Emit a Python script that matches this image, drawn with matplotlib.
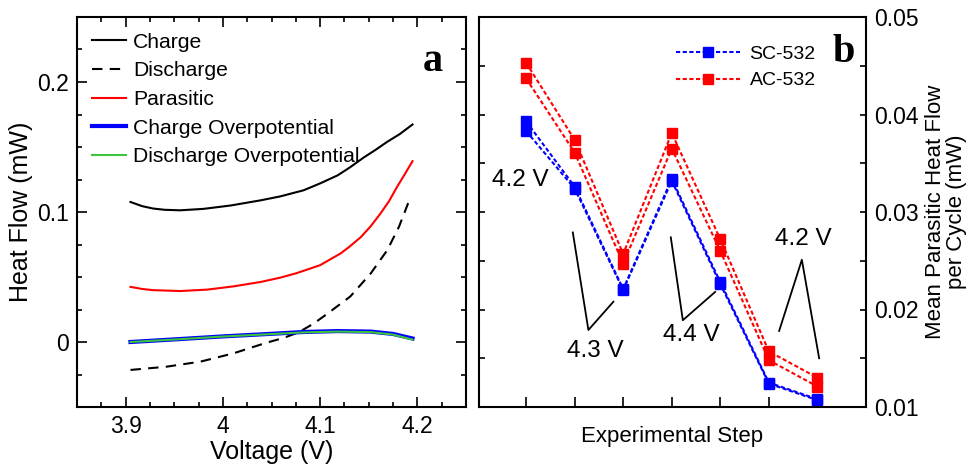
import matplotlib.pyplot as plt
from matplotlib.ticker import MultipleLocator, FuncFormatter

plt.rcParams['font.family'] = ['Liberation Sans', 'DejaVu Sans']

# Panel a : heat flow vs voltage
v_charge = [3.905, 3.917, 3.928, 3.94, 3.956, 3.980, 4.008, 4.039, 4.059, 4.083, 4.100, 4.118,
            4.130, 4.145, 4.157, 4.169, 4.182, 4.195]
q_charge = [0.1077, 0.1045, 0.1027, 0.1017, 0.1013, 0.1024, 0.1050, 0.1090, 0.1120, 0.1167, 0.1220, 0.1282,
            0.1340, 0.1420, 0.1478, 0.1540, 0.1600, 0.1673]

v_discharge = [3.905, 3.942, 3.977, 4.011, 4.045, 4.062, 4.078, 4.093, 4.107, 4.131, 4.152, 4.169, 4.181, 4.191]
q_discharge = [-0.0215, -0.019, -0.0151, -0.0087, -0.0005, 0.003, 0.0075, 0.014, 0.0215, 0.035, 0.0527, 0.0706, 0.0885, 0.1077]

v_parasitic = [3.905, 3.917, 3.928, 3.956, 3.984, 4.011, 4.039, 4.059, 4.076, 4.100, 4.121, 4.130,
               4.142, 4.152, 4.162, 4.171, 4.179, 4.187, 4.195]
q_parasitic = [0.0424, 0.0408, 0.0399, 0.0392, 0.0403, 0.0428, 0.0462, 0.0495, 0.0530, 0.0591, 0.0681, 0.0732,
               0.0808, 0.0890, 0.0988, 0.1085, 0.1192, 0.1290, 0.1391]

v_over = [3.905, 3.95, 4.0, 4.05, 4.083, 4.118, 4.152, 4.175, 4.195]
q_charge_over = [0.0, 0.002, 0.0043, 0.0063, 0.0077, 0.0084, 0.0080, 0.0062, 0.0027]
q_discharge_over = [0.0, 0.0019, 0.0042, 0.0061, 0.0074, 0.0080, 0.0076, 0.0057, 0.0018]

# Panel b : mean parasitic heat flow per cycle
steps = [1, 2, 3, 4, 5, 6, 7]
sc532_1 = [0.0393, 0.0326, 0.0221, 0.0334, 0.0228, 0.0125, 0.0108]
sc532_2 = [0.0383, 0.0324, 0.0220, 0.0332, 0.0226, 0.0124, 0.0107]
ac532_1 = [0.0453, 0.0374, 0.0257, 0.0381, 0.0272, 0.0157, 0.0130]
ac532_2 = [0.0437, 0.0361, 0.0247, 0.0365, 0.0260, 0.0148, 0.0121]

fig = plt.figure(figsize=(9.71, 4.67), dpi=100)
ax_a = fig.add_axes([77/971, 60/467, 389/971, 390/467])
ax_b = fig.add_axes([479/971, 60/467, 387/971, 390/467])

# ---- panel a
ax_a.plot(v_charge, q_charge, color='black', lw=1.5, label='Charge')
ax_a.plot(v_discharge, q_discharge, color='black', lw=1.5, linestyle=(0, (5, 3.5)), label='Discharge')
ax_a.plot(v_parasitic, q_parasitic, color='red', lw=1.5, label='Parasitic')
ax_a.plot(v_over, q_charge_over, color='blue', lw=3, label='Charge Overpotential')
ax_a.plot(v_over, q_discharge_over, color='#3cc43c', lw=1.5, label='Discharge Overpotential')

ax_a.set_xlim(3.85, 4.25)
ax_a.set_ylim(-0.05, 0.25)
ax_a.xaxis.set_major_locator(MultipleLocator(0.1))
ax_a.xaxis.set_minor_locator(MultipleLocator(0.025))
ax_a.yaxis.set_major_locator(MultipleLocator(0.1))
ax_a.yaxis.set_minor_locator(MultipleLocator(0.025))
fmt = FuncFormatter(lambda v, p: '%g' % round(v, 3))
ax_a.xaxis.set_major_formatter(fmt)
ax_a.yaxis.set_major_formatter(fmt)
ax_a.tick_params(which='both', direction='in', top=True, right=True, width=1.2, labelsize=16.5)
ax_a.tick_params(which='major', length=7, pad=6)
ax_a.tick_params(which='minor', length=3.5)
ax_a.set_xlabel('Voltage (V)', fontsize=18, labelpad=1)
ax_a.set_ylabel('Heat Flow (mW)', fontsize=18, labelpad=3)
ax_a.legend(loc='upper left', bbox_to_anchor=(0.038, 0.96), frameon=False, fontsize=15.2,
            handlelength=1.6, handletextpad=0.35, labelspacing=0.46, borderpad=0, borderaxespad=0)
ax_a.text(0.915, 0.885, 'a', transform=ax_a.transAxes, fontsize=29, fontweight='bold',
          family='Liberation Serif', ha='center', va='center')

# ---- panel b
dash = (0, (2, 1.2))
ax_b.plot(steps, sc532_1, color='blue', lw=1.5, linestyle=dash, marker='s', markersize=7, label='SC-532')
ax_b.plot(steps, sc532_2, color='blue', lw=1.5, linestyle=dash, marker='s', markersize=7)
ax_b.plot(steps, ac532_1, color='red', lw=1.5, linestyle=dash, marker='s', markersize=7, label='AC-532')
ax_b.plot(steps, ac532_2, color='red', lw=1.5, linestyle=dash, marker='s', markersize=7)

# voltage brackets
ax_b.plot([1.962, 2.283, 2.798], [0.0279, 0.0179, 0.0208], color='black', lw=1.3)
ax_b.plot([3.98, 4.228, 4.893], [0.0274, 0.0189, 0.0218], color='black', lw=1.3)
ax_b.plot([6.211, 6.679, 7.035], [0.0178, 0.0251, 0.0150], color='black', lw=1.3)
ax_b.text(0.88, 0.0333, '4.2 V', fontsize=17.5, ha='center', va='center')
ax_b.text(2.42, 0.0157, '4.3 V', fontsize=17.5, ha='center', va='center')
ax_b.text(4.41, 0.0174, '4.4 V', fontsize=17.5, ha='center', va='center')
ax_b.text(6.70, 0.0272, '4.2 V', fontsize=17.5, ha='center', va='center')

ax_b.set_xlim(0.03, 8.0)
ax_b.set_ylim(0.01, 0.05)
ax_b.set_xticks(steps)
ax_b.set_xticklabels([])
ax_b.yaxis.set_major_locator(MultipleLocator(0.01))
ax_b.yaxis.set_minor_locator(MultipleLocator(0.005))
ax_b.yaxis.set_major_formatter(FuncFormatter(lambda v, p: '%.2f' % v))
ax_b.tick_params(axis='x', direction='in', length=7, width=1.2, top=False)
ax_b.tick_params(axis='y', which='both', direction='in', left=True, right=True,
                 labelleft=False, labelright=True, length=4.5, width=1.2, labelsize=16.5, pad=6)
ax_b.yaxis.set_label_position('right')
ax_b.set_ylabel('Mean Parasitic Heat Flow\nper Cycle (mW)', fontsize=16, labelpad=4,
                multialignment='center', linespacing=1.05)
ax_b.set_xlabel('Experimental Step', fontsize=16, labelpad=10)
ax_b.legend(loc='upper left', bbox_to_anchor=(0.508, 0.927), frameon=False, fontsize=14,
            handlelength=3.3, handletextpad=0.5, labelspacing=0.45, borderpad=0, borderaxespad=0)
ax_b.text(0.943, 0.908, 'b', transform=ax_b.transAxes, fontsize=29, fontweight='bold',
          family='Liberation Serif', ha='center', va='center')

for ax in (ax_a, ax_b):
    for s in ax.spines.values():
        s.set_linewidth(1.5)

fig.savefig('out.png', dpi=100)
